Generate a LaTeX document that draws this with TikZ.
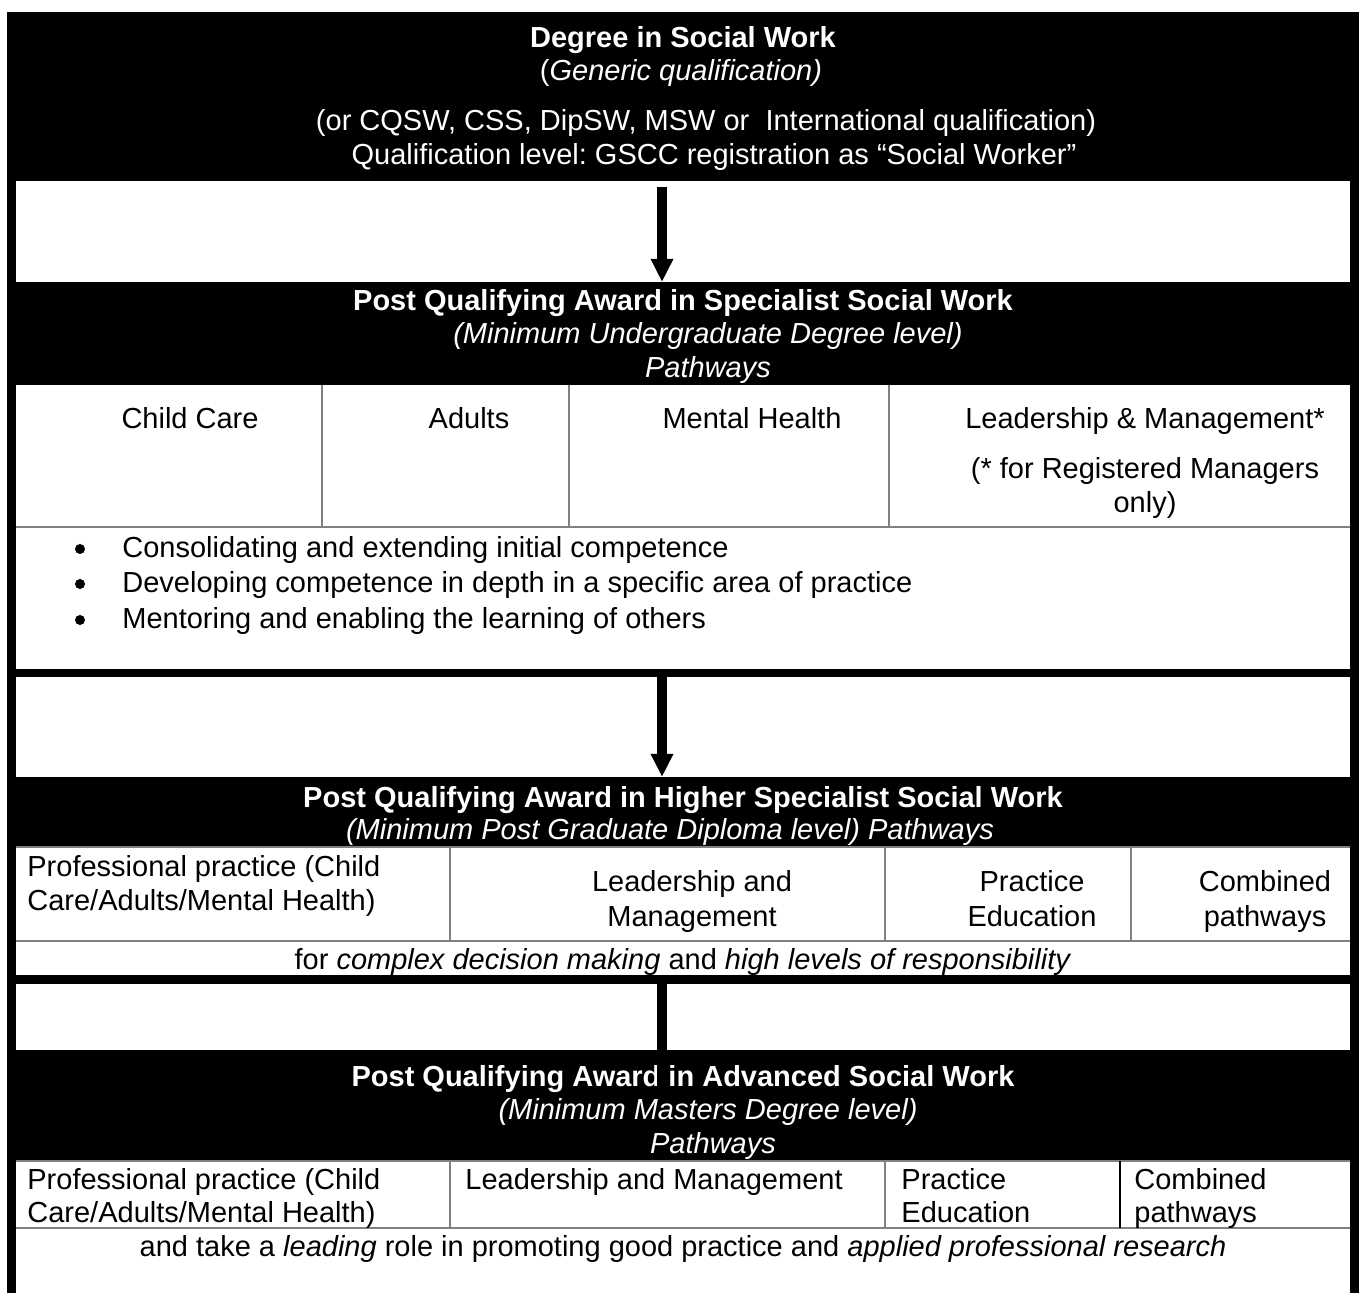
\documentclass[tikz,border=0pt]{standalone}
\usepackage{fontspec}
\setmainfont{Liberation Sans}
\usetikzlibrary{arrows.meta,fit,calc}
\newcommand{\fsz}{\fontsize{14.5}{17}\selectfont\frenchspacing}

\begin{document}
\begin{tikzpicture}[x=0.5pt,y=-0.5pt,>={Triangle[width=10.5pt,length=11.5pt]}]
	\tikzstyle{band}=[inner sep=0pt,outer sep=0pt,fill=black]
	\tikzstyle{pane}=[inner sep=0pt,outer sep=0pt,fill=white]
	\tikzstyle{wtxt}=[inner sep=0pt,anchor=base,text=white,font=\fsz]
	\tikzstyle{wbold}=[wtxt,font=\fsz\bfseries]
	\tikzstyle{wital}=[wtxt,font=\fsz\itshape]
	\tikzstyle{btxt}=[inner sep=0pt,anchor=base,font=\fsz]
	\tikzstyle{btxtl}=[btxt,anchor=base west]
	\tikzstyle{dot}=[circle,fill=black,inner sep=0pt,minimum size=5pt]
	\tikzstyle{grid}=[draw=gray,line width=1pt]
	\tikzstyle{link}=[line width=5pt]
	\useasboundingbox (0,0) rectangle (1360,1293);
	%Frame
	\fill[black] (7,12) rectangle (1359,1293);
	%Bands
	\node[band, fit={(7,12) (1359,181)}] (deg) {};
	\node[band, fit={(7,282) (1359,385)}] (pqs) {};
	\node[band, fit={(7,777) (1359,847)}] (hpq) {};
	\node[band, fit={(7,1050) (1359,1161)}] (apq) {};
	%White panes
	\node[pane, fit={(16,181) (1350,282)}] (gap1) {};
	\node[pane, fit={(16,385) (1350,669)}] (spec) {};
	\node[pane, fit={(16,677) (1350,777)}] (gap2) {};
	\node[pane, fit={(16,847) (1350,975)}] (high) {};
	\node[pane, fit={(16,984) (1350,1050)}] (gap3) {};
	\node[pane, fit={(16,1161) (1350,1293)}] (adv) {};
	%First Band
	\node[wbold] (deg1) at (683,48) {Degree in Social Work};
	\node[wtxt] (deg2) at (681,81) {(\textit{Generic qualification)}};
	\node[wtxt] (deg3) at (706,131) {(or CQSW, CSS, DipSW, MSW or~ International qualification)};
	\node[wtxt] (deg4) at (714,165) {Qualification level: GSCC registration as “Social Worker”};
	%Second Band
	\node[wbold] (pqs1) at (683,311) {Post Qualifying Award in Specialist Social Work};
	\node[wital] (pqs2) at (708,344) {(Minimum Undergraduate Degree level)};
	\node[wital] (pqs3) at (708,378) {Pathways};
	%Pathways
	\draw[grid] (16,527) -- (1350,527);
	\draw[grid] (322,385) -- (322,527);
	\draw[grid] (569,385) -- (569,527);
	\draw[grid] (889,385) -- (889,527);
	\node[btxt] (cc) at (190,429) {Child Care};
	\node[btxt] (ad) at (469,429) {Adults};
	\node[btxt] (mh) at (752,429) {Mental Health};
	\node[btxt] (lm) at (1145,429) {Leadership \& Management*};
	\node[btxt] (rm1) at (1145,479) {(* for Registered Managers};
	\node[btxt] (rm2) at (1145,513) {only)};
	%Bullets
	\node[dot] (b1) at (80,549) {};
	\node[dot] (b2) at (80,584) {};
	\node[dot] (b3) at (80,620) {};
	\node[btxtl] (l1) at (122,558) {Consolidating and extending initial competence};
	\node[btxtl] (l2) at (122,593) {Developing competence in depth in a specific area of practice};
	\node[btxtl] (l3) at (122,629) {Mentoring and enabling the learning of others};
	%Third Band
	\node[wbold] (hpq1) at (683,807) {Post Qualifying Award in Higher Specialist Social Work};
	\node[wital] (hpq2) at (670,840) {(Minimum Post Graduate Diploma level) Pathways};
	\draw[grid] (16,847) -- (1350,847);
	\draw[grid] (16,941) -- (1350,941);
	\draw[grid] (450,847) -- (450,941);
	\draw[grid] (885,847) -- (885,941);
	\draw[grid] (1131,847) -- (1131,941);
	\node[btxtl] (hp1) at (27,876) {Professional practice (Child};
	\node[btxtl] (hp2) at (27,910) {Care/Adults/Mental Health)};
	\node[btxt] (hl1) at (692,892) {Leadership and};
	\node[btxt] (hl2) at (692,926) {Management};
	\node[btxt] (he1) at (1032,892) {Practice};
	\node[btxt] (he2) at (1032,926) {Education};
	\node[btxt] (hc1) at (1265,892) {Combined};
	\node[btxt] (hc2) at (1265,926) {pathways};
	\node[btxt] (hfor) at (683,969) {for \textit{complex decision making} and \textit{high levels of responsibility}};
	%Fourth Band
	\node[wbold] (apq1) at (683,1086) {Post Qualifying Award in Advanced Social Work};
	\node[wital] (apq2) at (708,1119) {(Minimum Masters Degree level)};
	\node[wital] (apq3) at (713,1153) {Pathways};
	\draw[grid] (16,1161) -- (1350,1161);
	\draw[grid] (16,1228) -- (1350,1228);
	\draw[grid] (450,1161) -- (450,1228);
	\draw[grid] (885,1161) -- (885,1228);
	\draw[line width=0.8pt] (1120,1161) -- (1120,1228);
	\node[btxtl] (ap1) at (27,1189) {Professional practice (Child};
	\node[btxtl] (ap2) at (27,1222) {Care/Adults/Mental Health)};
	\node[btxtl] (al1) at (465,1189) {Leadership and Management};
	\node[btxtl] (ae1) at (901,1189) {Practice};
	\node[btxtl] (ae2) at (901,1222) {Education};
	\node[btxtl] (ac1) at (1134,1189) {Combined};
	\node[btxtl] (ac2) at (1134,1222) {pathways};
	\node[btxt] (alead) at (683,1256) {and take a \textit{leading} role in promoting good practice and \textit{applied professional research}};
	%Arrows
	\coordinate (ax) at (662,0);
	\draw[link,->,shorten <=3pt] (deg.south -| ax) -- (pqs.north -| ax);
	\draw[link,->] (spec.south -| ax) -- (hpq.north -| ax);
	\draw[link] (high.south -| ax) -- ($(apq.north -| ax)+(0,42)$);
\end{tikzpicture}
\end{document}
